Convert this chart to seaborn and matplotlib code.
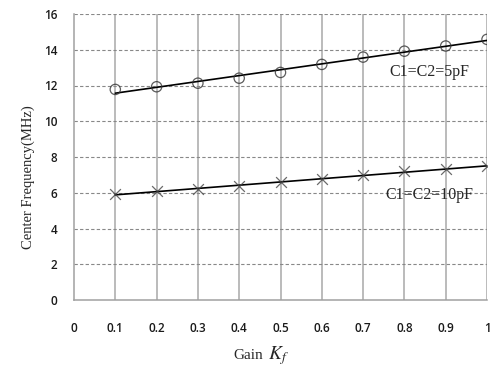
import numpy as np
import pandas as pd
import seaborn as sns
import matplotlib.pyplot as plt

# values
gain = [0.1, 0.2, 0.3, 0.4, 0.5, 0.6, 0.7, 0.8, 0.9, 1.0]
freq_5pf = [11.78, 11.93, 12.13, 12.41, 12.73, 13.18, 13.59, 13.92, 14.21, 14.58]
freq_10pf = [5.91, 6.08, 6.19, 6.38, 6.61, 6.78, 7.01, 7.20, 7.31, 7.47]
x_ticks = [0, 0.1, 0.2, 0.3, 0.4, 0.5, 0.6, 0.7, 0.8, 0.9, 1]
x_tick_labels = ['0', '0.1', '0.2', '0.3', '0.4', '0.5', '0.6', '0.7', '0.8', '0.9', '1']
y_ticks = [0, 2, 4, 6, 8, 10, 12, 14, 16]

df = pd.DataFrame({'Gain': gain, '5pF': freq_5pf, '10pF': freq_10pf})

sns.set_style("white")
plt.rcParams['font.family'] = ['Liberation Serif', 'DejaVu Serif']
plt.rcParams['mathtext.fontset'] = 'stix'

fig = plt.figure(figsize=(4.9, 3.68), dpi=100)
ax = fig.add_axes([74 / 490, 1 - 300 / 368, 413 / 490, 286 / 368])

# trendlines + markers
sns.regplot(data=df, x='Gain', y='5pF', ci=None, ax=ax, marker='o',
            scatter_kws=dict(s=55, facecolors='none', edgecolors='#333333', linewidths=0.9, zorder=4),
            line_kws=dict(color='black', lw=1.2, zorder=3))
sns.regplot(data=df, x='Gain', y='10pF', ci=None, ax=ax, marker='x',
            scatter_kws=dict(s=60, color='#444444', linewidths=0.9, zorder=4),
            line_kws=dict(color='black', lw=1.2, zorder=3))

ax.set_xlim(0, 1)
ax.set_ylim(0, 16)
ax.set_xticks(x_ticks)
ax.set_xticklabels(x_tick_labels)
ax.set_yticks(y_ticks)

# grid: solid vertical, dashed horizontal
for xv in x_ticks[1:]:
    ax.axvline(xv, color='#a8a8a8', lw=1.1, zorder=1)
for yv in y_ticks[1:]:
    ax.axhline(yv, color='#888888', lw=0.8, ls=(0, (3, 2)), zorder=1)

for side in ['top', 'right']:
    ax.spines[side].set_visible(False)
for side in ['left', 'bottom']:
    ax.spines[side].set_color('#a0a0a0')
    ax.spines[side].set_linewidth(1.1)

ax.tick_params(axis='both', which='major', length=4, width=0.8, color='#a0a0a0',
               labelsize=8.5, labelcolor='#1a1a1a', direction='out')
ax.tick_params(axis='x', pad=12)
ax.tick_params(axis='y', pad=8)
for lab in ax.get_xticklabels() + ax.get_yticklabels():
    lab.set_family(['Open Sans', 'DejaVu Sans'])
    lab.set_fontweight('semibold')

# x label: "Gain" plus a larger italic K_f, sharing a baseline
ax.set_xlabel('Gain', fontsize=11, ha='right')
ax.xaxis.set_label_coords((263 - 74) / 413, -(359 - 300) / 286)
ax.xaxis.label.set_va('baseline')
ax.text((268 - 74) / 413, -(359 - 300) / 286, '$K_f$', transform=ax.transAxes,
        fontsize=14, ha='left', va='baseline')

ax.set_ylabel('Center Frequency(MHz)', fontsize=10.5)
ax.yaxis.set_label_coords(-(74 - 28) / 413, (300 - 177) / 286)
ax.yaxis.label.set_va('center')

ax.text(0.86, 12.75, 'C1=C2=5pF', fontsize=11.5, ha='center', va='center', zorder=5)
ax.text(0.86, 5.85, 'C1=C2=10pF', fontsize=11.5, ha='center', va='center', zorder=5)

fig.savefig('out.png', dpi=100)
